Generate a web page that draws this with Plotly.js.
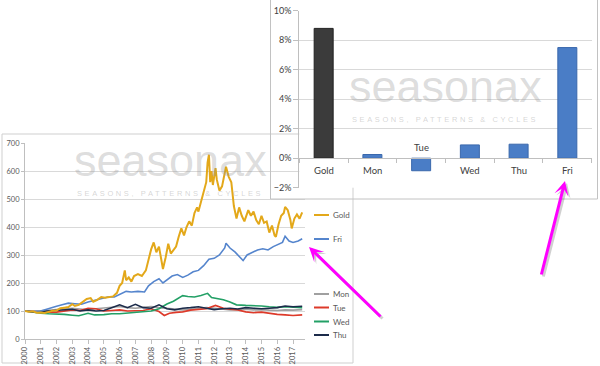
<!DOCTYPE html>
<html>
<head>
<meta charset="utf-8">
<script src="https://cdn.plot.ly/plotly-3.0.1.min.js"></script>
<style>html,body{margin:0;padding:0;background:#fff;}#chart{width:600px;height:366px;}</style>
</head>
<body>
<div id="chart"></div>
<script>
// ---------- DATA ----------
const goldDates = ['2000-01','2000-04','2000-07','2000-10','2001-01','2001-04','2001-07','2001-10','2002-01','2002-04','2002-07','2002-10','2003-01','2003-03','2003-06','2003-09','2003-12','2004-03','2004-05','2004-08','2004-11','2005-02','2005-05','2005-08','2005-11','2006-01','2006-03','2006-05','2006-06','2006-08','2006-10','2006-12','2007-03','2007-06','2007-09','2007-11','2008-01','2008-03','2008-05','2008-07','2008-09','2008-10','2008-12','2009-02','2009-04','2009-06','2009-08','2009-10','2009-12','2010-02','2010-04','2010-06','2010-08','2010-10','2010-12','2011-01','2011-03','2011-05','2011-07','2011-08','2011-09','2011-10','2011-11','2011-12','2012-02','2012-03','2012-05','2012-07','2012-09','2012-10','2012-12','2013-02','2013-04','2013-06','2013-08','2013-10','2013-12','2014-03','2014-05','2014-07','2014-09','2014-11','2015-01','2015-03','2015-05','2015-07','2015-09','2015-11','2015-12','2016-02','2016-04','2016-06','2016-07','2016-09','2016-11','2016-12','2017-02','2017-04','2017-06','2017-08'];
const goldValues = [100,97,99,94,95,93,97,101,102,110,112,114,124,118,122,134,143,146,133,140,150,147,150,152,165,190,200,245,210,220,205,225,232,225,245,285,320,345,310,330,275,250,290,340,305,320,330,365,395,370,400,420,405,450,470,455,490,520,560,630,658,560,600,550,610,570,530,545,600,615,580,560,475,430,470,440,420,460,440,455,425,410,440,415,420,380,405,370,365,410,440,450,472,460,425,395,430,445,430,452];

const friDates = ['2000-01','2000-06','2001-01','2001-06','2002-01','2002-06','2002-10','2003-03','2003-08','2004-01','2004-06','2004-11','2005-04','2005-09','2006-01','2006-06','2006-10','2007-03','2007-08','2007-11','2008-03','2008-07','2008-10','2009-01','2009-05','2009-09','2010-01','2010-05','2010-09','2011-01','2011-05','2011-09','2012-01','2012-05','2012-09','2012-10','2013-01','2013-05','2013-08','2013-11','2014-02','2014-06','2014-10','2015-02','2015-06','2015-10','2016-02','2016-05','2016-07','2016-10','2017-01','2017-05','2017-08'];
const friValues = [100,98,100,108,117,123,128,126,124,132,138,145,150,150,158,170,168,170,168,190,205,215,200,212,225,230,220,228,240,245,262,285,288,300,325,342,325,310,295,280,300,310,318,322,318,330,338,345,367,350,345,350,358];

const wedDates = ['2000-01','2000-07','2001-01','2001-07','2002-01','2002-07','2003-01','2003-06','2004-01','2004-06','2005-01','2005-07','2006-01','2006-07','2007-01','2007-07','2008-01','2008-07','2009-01','2009-06','2009-10','2010-01','2010-05','2010-10','2011-03','2011-08','2011-11','2012-03','2012-08','2013-01','2013-06','2014-01','2014-07','2015-01','2015-07','2016-01','2016-07','2017-01','2017-08'];
const wedValues = [100,95,92,90,90,88,85,83,92,86,87,90,90,93,95,97,100,108,125,135,145,155,152,150,155,163,148,145,140,132,122,120,120,118,115,113,115,114,112];

const thuDates = ['2000-01','2000-07','2001-01','2001-07','2002-01','2002-07','2003-01','2003-07','2004-01','2004-07','2005-01','2005-07','2006-01','2006-07','2007-01','2007-07','2008-01','2008-07','2009-01','2009-07','2010-01','2010-07','2011-01','2011-07','2012-01','2012-07','2013-01','2013-07','2014-01','2014-07','2015-01','2015-07','2016-01','2016-07','2017-01','2017-08'];
const thuValues = [100,97,98,100,100,104,106,100,104,100,102,112,122,112,124,112,110,122,108,104,110,112,115,110,105,108,110,107,112,110,108,110,112,118,115,117];

const tueDates = ['2000-01','2000-07','2001-01','2001-07','2002-01','2002-07','2003-01','2003-07','2004-01','2004-07','2005-01','2005-07','2006-01','2006-07','2007-01','2007-07','2008-01','2008-07','2008-11','2009-03','2009-08','2010-01','2010-07','2011-01','2011-07','2012-02','2012-08','2013-01','2013-07','2014-01','2014-07','2015-01','2015-07','2016-01','2016-07','2017-01','2017-08'];
const tueValues = [100,98,97,95,96,100,104,102,110,108,100,102,104,100,100,102,108,98,84,92,95,97,103,106,108,120,110,106,104,97,94,96,91,88,86,84,86];

const monDates = ['2000-01','2000-07','2001-01','2001-07','2002-01','2002-07','2003-01','2003-07','2004-01','2004-07','2005-01','2005-07','2006-01','2006-07','2007-01','2007-07','2008-01','2008-07','2009-01','2009-07','2010-01','2010-07','2011-01','2011-07','2012-01','2012-07','2013-01','2013-07','2014-01','2014-07','2015-01','2015-07','2016-01','2016-07','2017-01','2017-08'];
const monValues = [100,99,101,103,106,108,110,107,104,108,110,112,116,112,110,113,116,112,110,108,104,106,108,112,110,106,104,105,106,104,105,103,102,104,103,105];

const barCategories = ['Gold','Mon','Tue','Wed','Thu','Fri'];
const barValues = [8.8, 0.25, -0.85, 0.9, 0.95, 7.5];

const seriesNames = ['Gold','Fri','Mon','Tue','Wed','Thu'];
const watermarkMain = 'seasonax';
const watermarkSub = 'SEASONS, PATTERNS &amp; CYCLES';

// ---------- STYLE ----------
const colors = {Gold:'#E3A81A', Fri:'#5585CD', Mon:'#A0A0A0', Tue:'#DD3A2A', Wed:'#23A066', Thu:'#1C2B4A'};
const W = 600, H = 366;
const px = x => x / W;
const py = y => 1 - y / H;
const FONT = 'Lato, "Liberation Sans", Arial, sans-serif';

const seriesData = {
  Gold:[goldDates, goldValues], Fri:[friDates, friValues], Mon:[monDates, monValues],
  Tue:[tueDates, tueValues], Wed:[wedDates, wedValues], Thu:[thuDates, thuValues]
};
const drawOrder = ['Mon','Tue','Wed','Thu','Fri','Gold'];
const traces = drawOrder.map(n => ({
  type:'scatter', mode:'lines', name:n, x:seriesData[n][0], y:seriesData[n][1],
  xaxis:'x', yaxis:'y', line:{color:colors[n], width: n==='Gold' ? 2 : 1.6}, hoverinfo:'skip'
}));

traces.push({
  type:'bar', x:barCategories, y:barValues, xaxis:'x3', yaxis:'y3',
  marker:{color: barCategories.map(c => c==='Gold' ? '#3B3B3B' : '#4A7DC6'),
          line:{color: barCategories.map(c => c==='Gold' ? '#222' : '#3A68AC'), width:1}},
  hoverinfo:'skip'
});

// y positions of legend rows (layout)
const legendY = {Gold:215, Fri:239, Mon:294, Tue:307.5, Wed:321.5, Thu:335};

const shapes = [
  // line-chart frame
  {type:'rect', xref:'paper', yref:'paper', x0:px(2), x1:px(353), y0:py(363), y1:py(134),
   line:{color:'#cfcfcf', width:1}, fillcolor:'rgba(0,0,0,0)', layer:'below'},
  // bar-chart frame (outline only, drawn on top)
  {type:'rect', xref:'paper', yref:'paper', x0:px(270.5), x1:px(597.5), y0:py(199), y1:py(-2),
   line:{color:'#c2c2c2', width:1}, fillcolor:'rgba(0,0,0,0)', layer:'above'}
];
seriesNames.forEach(n => shapes.push({
  type:'line', xref:'paper', yref:'paper', x0:px(314), x1:px(329), y0:py(legendY[n]), y1:py(legendY[n]),
  line:{color:colors[n], width:2}, layer:'below'
}));

const annotations = [];
seriesNames.forEach(n => annotations.push({
  xref:'paper', yref:'paper', x:px(331), y:py(legendY[n]), xanchor:'left', yanchor:'middle',
  text:n, showarrow:false, font:{size:8, color:'#595959', family:FONT}
}));
// category labels of the bar chart
barCategories.forEach((c, i) => annotations.push({
  xref:'x3', yref:'y3', x:c, y:0, showarrow:false, text:c,
  yanchor: barValues[i] < 0 ? 'bottom' : 'top', yshift: barValues[i] < 0 ? 3 : -5,
  font:{size:9.5, color:'#404040', family:FONT}
}));
// watermarks
function watermark(cx, cy, cySub) {
  annotations.push({xref:'paper', yref:'paper', x:px(cx), y:py(cy), xanchor:'center', yanchor:'middle',
    showarrow:false, text:watermarkMain, font:{size:45, color:'rgba(150,150,150,0.32)', family:'"Liberation Sans", Arial, sans-serif'}});
  annotations.push({xref:'paper', yref:'paper', x:px(cx), y:py(cySub), xanchor:'center', yanchor:'middle',
    showarrow:false, text:'<span style="letter-spacing:2.6px">' + watermarkSub + '</span>',
    font:{size:7.5, color:'rgba(150,150,150,0.4)', family:'"Liberation Sans", Arial, sans-serif'}});
}
watermark(445, 87, 120);
watermark(170, 161, 193);

// pink arrows (with soft shadow)
function arrow(hx, hy, tx, ty) {
  annotations.push({xref:'paper', yref:'paper', x:px(hx+2), y:py(hy+2), ax:tx-hx, ay:ty-hy, text:'',
    showarrow:true, arrowcolor:'rgba(0,0,0,0.18)', arrowwidth:3, arrowhead:3, arrowsize:0.8});
  annotations.push({xref:'paper', yref:'paper', x:px(hx), y:py(hy), ax:tx-hx, ay:ty-hy, text:'',
    showarrow:true, arrowcolor:'#FF00FF', arrowwidth:3, arrowhead:3, arrowsize:0.8});
}
arrow(309, 247, 382, 318);
arrow(565, 181, 541, 276);

const barYDom = [py(187.7), py(10.7)];
const zeroPos = barYDom[0] + (0 - (-2)) / 12 * (barYDom[1] - barYDom[0]);

const layout = {
  width:W, height:H, margin:{l:0, r:0, t:0, b:0},
  paper_bgcolor:'#ffffff', plot_bgcolor:'#ffffff', showlegend:false,
  font:{family:FONT, color:'#595959'}, bargap:0.61,
  xaxis:{domain:[px(25), px(305)], anchor:'y', type:'date', range:['2000-01-01','2017-10-05'],
    dtick:'M12', tick0:'2000-01-01', tickformat:'%Y', tickangle:-90, tickfont:{size:7.5, color:'#595959'},
    showgrid:false, showline:true, linecolor:'#bfbfbf', ticks:'outside', ticklen:4, tickcolor:'#bfbfbf',
    zeroline:false, fixedrange:true},
  yaxis:{domain:[py(339), py(143)], anchor:'x', range:[0,700], dtick:100, tickfont:{size:7.5, color:'#595959'},
    gridcolor:'#d9d9d9', showline:true, linecolor:'#bfbfbf', ticks:'outside', ticklen:3, tickcolor:'#bfbfbf',
    zeroline:false, fixedrange:true},
  // blank subplot used as the opaque card behind the bar chart
  xaxis2:{domain:[px(270), px(598)], anchor:'y2', range:[0,1], showline:false,
    showgrid:false, zeroline:false, showticklabels:false, ticks:'', fixedrange:true},
  yaxis2:{domain:[py(199), 1], anchor:'x2', range:[0,1], showline:false,
    showgrid:false, zeroline:false, showticklabels:false, ticks:'', fixedrange:true},
  xaxis3:{domain:[px(299.3), px(591.7)], anchor:'free', position:zeroPos, type:'category',
    showline:true, linecolor:'#bfbfbf', ticks:'outside', tickson:'boundaries', ticklen:4, tickcolor:'#bfbfbf',
    showticklabels:false, showgrid:false, zeroline:false, fixedrange:true},
  yaxis3:{domain:barYDom, anchor:'x3', range:[-2,10], dtick:2, ticksuffix:'%', tickfont:{size:9, color:'#404040'},
    gridcolor:'#d9d9d9', showline:true, linecolor:'#bfbfbf', ticks:'outside', ticklen:5, tickcolor:'#bfbfbf',
    zeroline:false, fixedrange:true},
  shapes:shapes, annotations:annotations
};

Plotly.newPlot('chart', traces, layout, {staticPlot:true, displayModeBar:false});
</script>
</body>
</html>
